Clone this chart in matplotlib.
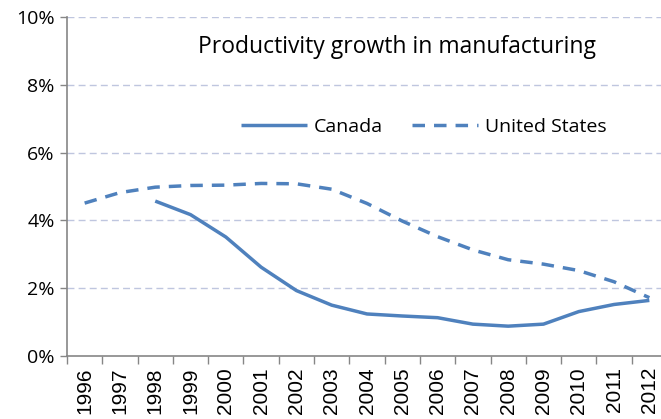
import matplotlib.pyplot as plt
from matplotlib.ticker import FixedLocator, NullFormatter

years = [str(y) for y in range(1996, 2013)]
canada = [None, None, 4.57, 4.17, 3.51, 2.62, 1.93, 1.50, 1.24, 1.18, 1.13, 0.94, 0.88, 0.94, 1.31, 1.52, 1.64]
united_states = [4.51, 4.82, 4.98, 5.03, 5.04, 5.09, 5.08, 4.92, 4.50, 3.98, 3.52, 3.13, 2.84, 2.71, 2.52, 2.19, 1.72]

blue = "#4F81BD"

fig = plt.figure(figsize=(6.61, 4.19), dpi=100)
ax = fig.add_axes([67 / 661, 63 / 419, 600 / 661, 339 / 419])

x = list(range(len(years)))
xc = [i for i, v in zip(x, canada) if v is not None]
yc = [v for v in canada if v is not None]
ax.plot(xc, yc, color=blue, lw=2.5, solid_capstyle="butt", label="Canada", clip_on=False)
ax.plot(x, united_states, color=blue, lw=2.5, dashes=(3.6, 2.6), label="United States", clip_on=False)

ax.set_xlim(-0.5, len(years) - 0.5)
ax.set_ylim(0, 10)

ax.set_yticks(range(0, 11, 2))
ax.set_yticklabels([f"{v}%" for v in range(0, 11, 2)], family="Open Sans", fontsize=14)
ax.tick_params(axis="y", length=5, width=1, color="#868686", pad=4)
for v in range(2, 11, 2):
    ax.axhline(v, color="#BFC6DF", lw=1, dashes=(5, 3), zorder=0)

ax.set_xticks(x)
ax.set_xticklabels(years, rotation=90, family="Liberation Sans", fontsize=15, va="top")
ax.tick_params(axis="x", which="major", length=0, pad=8)
ax.xaxis.set_minor_locator(FixedLocator([i - 0.5 for i in range(len(years) + 1)]))
ax.xaxis.set_minor_formatter(NullFormatter())
ax.tick_params(axis="x", which="minor", length=6, width=1, color="#868686")

for s in ["top", "right"]:
    ax.spines[s].set_visible(False)
for s in ["left", "bottom"]:
    ax.spines[s].set_color("#868686")
    ax.spines[s].set_linewidth(1.2)

fig.text(397 / 661, 1 - 47 / 419, "Productivity growth in manufacturing",
         family="Open Sans", fontsize=16.5, ha="center", va="center")

ax.legend(loc="center", bbox_to_anchor=(424 / 661, 1 - 127 / 419), bbox_transform=fig.transFigure,
          ncol=2, frameon=False, prop={"family": "Open Sans", "size": 14},
          handlelength=3.4, handletextpad=0.35, columnspacing=1.5, borderpad=0)

fig.savefig("out.png", dpi=100)
